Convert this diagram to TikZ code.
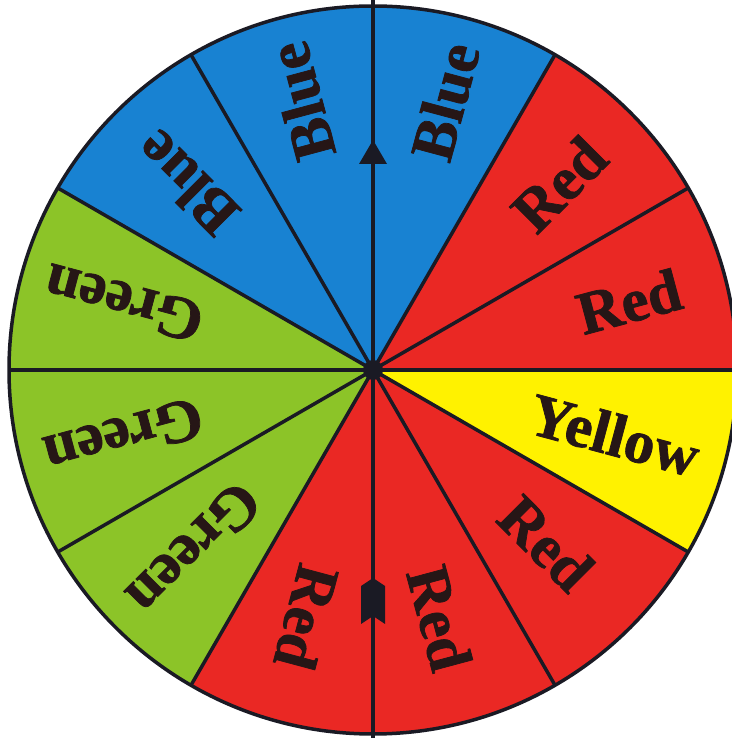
\documentclass[tikz,border=0pt]{standalone}
\usepackage{fontspec}
\setmainfont{Liberation Serif}
\newfontfamily\labfont{Liberation Serif Bold}[FakeBold=1.2]
\begin{document}
\begin{tikzpicture}[x=1pt,y=1pt,
  line/.style={draw=linecol, line width=3.5pt},
  lab/.style={font=\fontsize{61}{61}\labfont, text=textcol, inner sep=0pt, anchor=center}]
\definecolor{sblue}{RGB}{24,130,210}
\definecolor{sred}{RGB}{234,40,36}
\definecolor{sgreen}{RGB}{140,196,40}
\definecolor{syellow}{RGB}{255,242,0}
\definecolor{linecol}{RGB}{26,26,36}
\definecolor{textcol}{RGB}{38,22,22}
\useasboundingbox (0,0) rectangle (731,738);
\coordinate (O) at (373,368);
\def\R{364}
% sectors
\foreach \a/\c in {0/sred,30/sred,60/sblue,90/sblue,120/sblue,150/sgreen,180/sgreen,210/sgreen,240/sred,270/sred,300/sred,330/syellow}
  \fill[\c] (O) -- ++(\a:\R) arc[start angle=\a, end angle=\a+30, radius=\R] -- cycle;
% dividing lines
\foreach \a in {0,30,60,120,150,180,210,240,300,330}
  \draw[line] (O) -- ++(\a:\R);
% labels
\foreach \a/\r/\t [count=\i] in {15/265/Red,45/263/Red,75/278/Blue,105/278/Blue,135/264/Blue,165/258/Green,195/258/Green,225/253/Green,255/256/Red,285/257/Red,315/245/Red,345/250/Yellow}
  \node[lab, rotate=\a] (L\i) at ([shift={(\a:\r)}]O) {\t};
% spinner arrow
\coordinate (top) at (373,738);
\coordinate (bot) at (373,0);
\draw[line] (top) -- (bot);
\fill[linecol] (373,598) -- (387,574) -- (359,574) -- cycle;
\fill[linecol] (361,152) -- (373,160) -- (385,152) -- (385,114) -- (373,122) -- (361,114) -- cycle;
% rim
\draw[line] (O) circle[radius=\R];
% hub
\fill[linecol] (O) circle[radius=10];
\end{tikzpicture}
\end{document}
